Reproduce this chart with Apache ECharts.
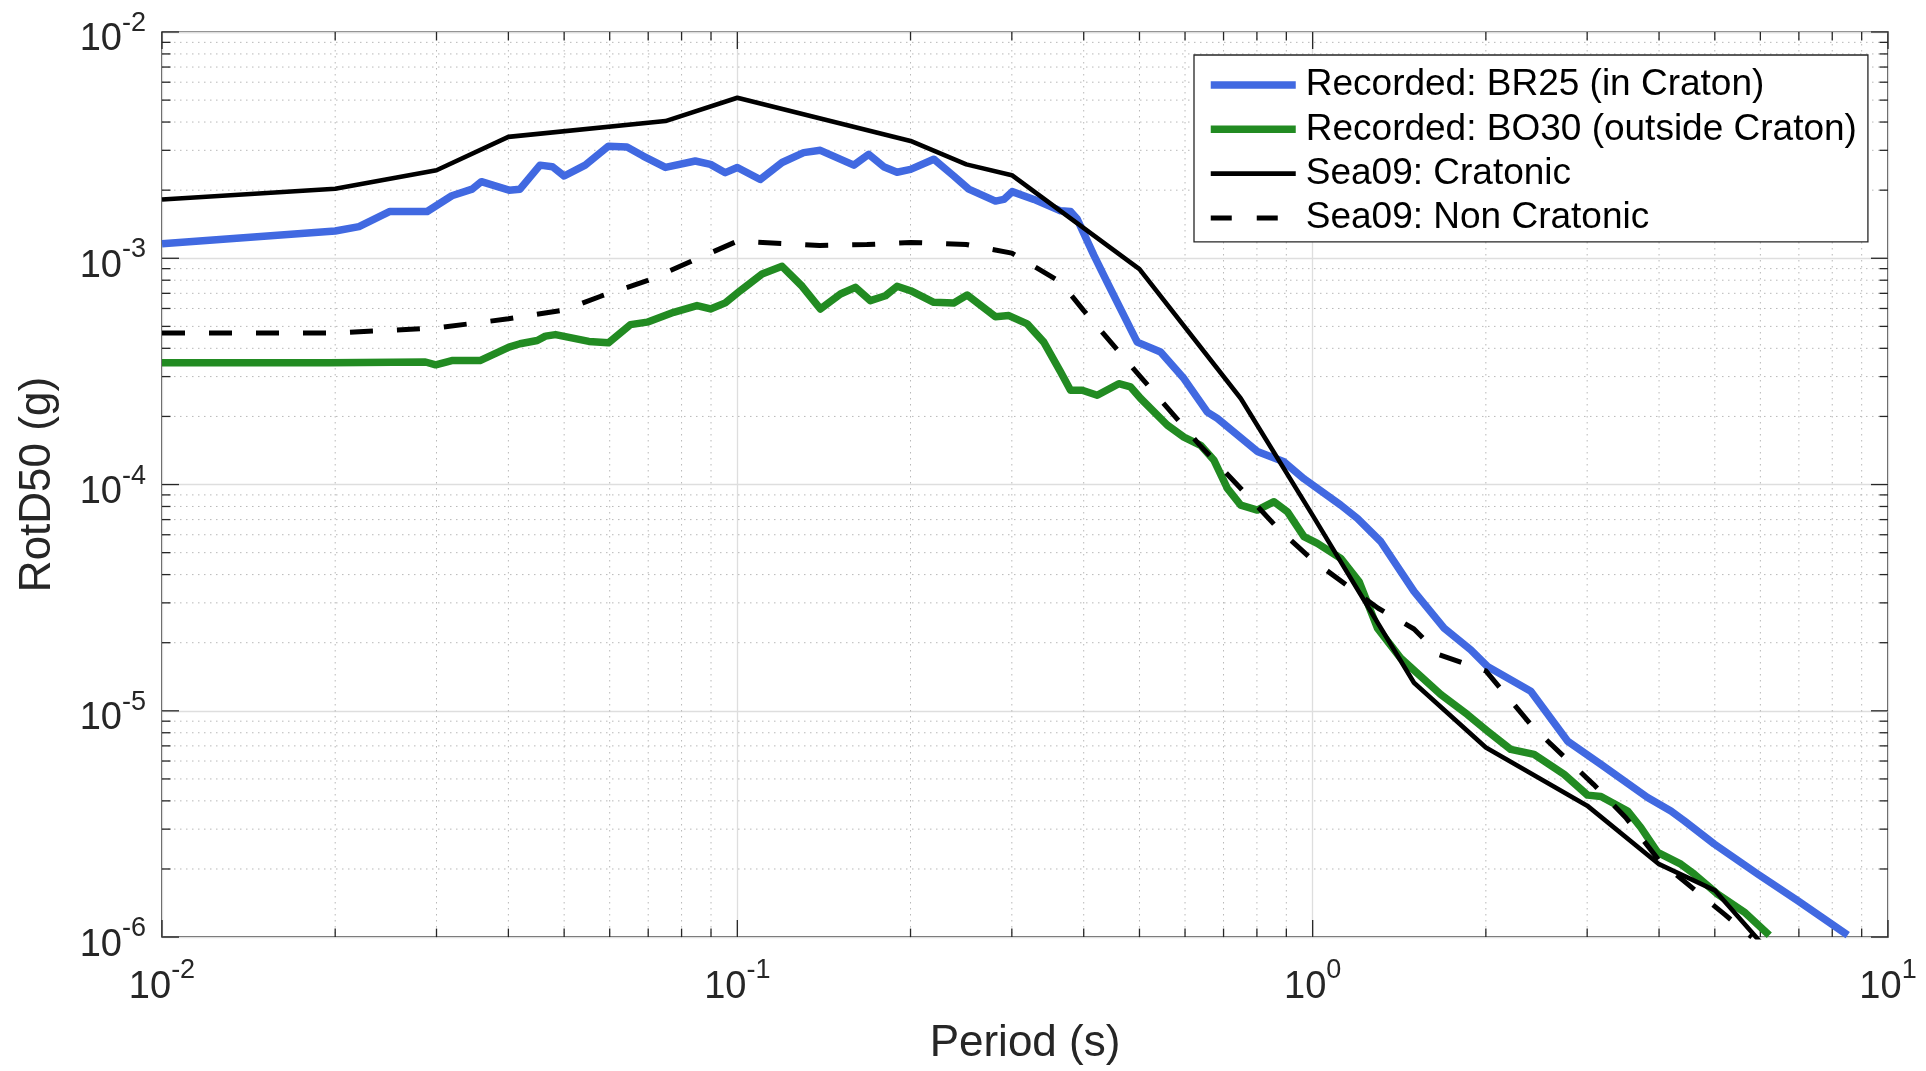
<!DOCTYPE html>
<html>
<head>
<meta charset="utf-8">
<script src="https://cdn.jsdelivr.net/npm/echarts@6/dist/echarts.min.js"></script>
<style>
html,body{margin:0;padding:0;background:#ffffff;}
#chart{width:1926px;height:1071px;}
</style>
</head>
<body>
<div id="chart"></div>
<script>
// ---------------- data ----------------
const br25Period = [0.0100,0.0200,0.0220,0.0249,0.0289,0.0319,0.0346,0.0359,0.0401,0.0419,0.0454,0.0477,0.0500,0.0544,0.0597,0.0643,0.0686,0.0750,0.0845,0.0898,0.0953,0.1000,0.1096,0.1196,0.1304,0.1394,0.1594,0.1692,0.1796,0.1895,0.2000,0.2195,0.2378,0.2525,0.2810,0.2905,0.3004,0.3277,0.3646,0.3794,0.3897,0.4167,0.4395,0.4955,0.5441,0.5973,0.6561,0.6829,0.8013,0.8916,0.9658,1.119,1.196,1.313,1.500,1.692,1.883,2.013,2.394,2.773,3.170,3.820,4.194,4.423,4.988,5.934,6.966,8.511];
const br25SA = [1.16e-3,1.32e-3,1.38e-3,1.61e-3,1.61e-3,1.89e-3,2.02e-3,2.18e-3,2.00e-3,2.02e-3,2.58e-3,2.54e-3,2.31e-3,2.58e-3,3.13e-3,3.10e-3,2.83e-3,2.52e-3,2.69e-3,2.60e-3,2.39e-3,2.52e-3,2.23e-3,2.65e-3,2.93e-3,3.00e-3,2.58e-3,2.88e-3,2.54e-3,2.40e-3,2.47e-3,2.74e-3,2.31e-3,2.02e-3,1.79e-3,1.82e-3,1.97e-3,1.82e-3,1.62e-3,1.61e-3,1.49e-3,1.03e-3,7.83e-4,4.26e-4,3.85e-4,2.94e-4,2.09e-4,1.96e-4,1.40e-4,1.26e-4,1.06e-4,8.11e-5,7.09e-5,5.60e-5,3.37e-5,2.32e-5,1.86e-5,1.57e-5,1.22e-5,7.35e-6,5.80e-6,4.14e-6,3.61e-6,3.27e-6,2.58e-6,1.90e-6,1.45e-6,1.02e-6];

const bo30Period = [0.0100,0.0195,0.0287,0.0299,0.0319,0.0357,0.0401,0.0419,0.0449,0.0464,0.0483,0.0552,0.0597,0.0652,0.0697,0.0775,0.0851,0.0898,0.0953,0.1012,0.1104,0.1196,0.1296,0.1394,0.1511,0.1604,0.1703,0.1809,0.1895,0.2000,0.2195,0.2378,0.2509,0.2810,0.2964,0.3190,0.3409,0.3646,0.3794,0.3976,0.4222,0.4603,0.4826,0.5024,0.5589,0.5973,0.6387,0.6738,0.7108,0.7497,0.8013,0.8566,0.9036,0.9658,1.019,1.119,1.204,1.296,1.422,1.670,1.858,2.013,2.210,2.426,2.736,3.004,3.170,3.526,3.719,3.977,4.365,4.603,5.056,5.626,6.219];
const bo30SA = [3.45e-4,3.45e-4,3.48e-4,3.38e-4,3.53e-4,3.53e-4,4.05e-4,4.19e-4,4.33e-4,4.53e-4,4.60e-4,4.29e-4,4.23e-4,5.09e-4,5.22e-4,5.77e-4,6.18e-4,5.97e-4,6.35e-4,7.19e-4,8.52e-4,9.21e-4,7.52e-4,5.97e-4,6.95e-4,7.44e-4,6.50e-4,6.83e-4,7.52e-4,7.19e-4,6.39e-4,6.35e-4,6.88e-4,5.52e-4,5.58e-4,5.13e-4,4.26e-4,3.15e-4,2.61e-4,2.61e-4,2.48e-4,2.79e-4,2.70e-4,2.40e-4,1.83e-4,1.62e-4,1.49e-4,1.28e-4,9.61e-5,8.11e-5,7.71e-5,8.40e-5,7.59e-5,5.89e-5,5.50e-5,4.72e-5,3.73e-5,2.32e-5,1.71e-5,1.18e-5,9.63e-6,8.14e-6,6.75e-6,6.42e-6,5.24e-6,4.24e-6,4.18e-6,3.61e-6,3.05e-6,2.37e-6,2.10e-6,1.90e-6,1.55e-6,1.29e-6,1.02e-6];

const sea09CratPeriod = [0.01,0.02,0.03,0.04,0.075,0.1,0.2,0.25,0.3,0.5,0.75,1.0,1.5,2.0,3.0,4.0,5.0,7.5];
const sea09CratSA = [1.82e-3,2.03e-3,2.45e-3,3.44e-3,4.04e-3,5.12e-3,3.30e-3,2.60e-3,2.33e-3,8.96e-4,2.40e-4,7.31e-5,1.33e-5,6.88e-6,3.81e-6,2.10e-6,1.61e-6,5.0e-7];

const sea09NonCratPeriod = [0.01,0.02,0.03,0.04,0.05,0.0582,0.0697,0.0828,0.1,0.139,0.168,0.2,0.25,0.3,0.365,0.4,0.5,0.637,0.75,0.87,1.0,1.3,1.5,1.66,2.0,2.42,3.08,3.5,4.0,5.2,5.8];
const sea09NonCratSA = [4.68e-4,4.68e-4,4.92e-4,5.40e-4,5.91e-4,6.83e-4,7.96e-4,9.65e-4,1.19e-3,1.14e-3,1.15e-3,1.175e-3,1.15e-3,1.054e-3,7.83e-4,5.87e-4,3.03e-4,1.49e-4,9.61e-5,6.40e-5,4.63e-5,2.84e-5,2.30e-5,1.77e-5,1.50e-5,8.42e-6,4.72e-6,3.38e-6,2.18e-6,1.26e-6,1.0e-6];

const seriesNames = ['Recorded: BR25 (in Craton)','Recorded: BO30 (outside Craton)','Sea09: Cratonic','Sea09: Non Cratonic'];

// axis ticks
const xMajorTicks = [0.01, 0.1, 1, 10];
const yMajorTicks = [1e-6, 1e-5, 1e-4, 1e-3, 1e-2];
const minorMultipliers = [2,3,4,5,6,7,8,9];
const X_MIN = 0.01, X_MAX = 10, Y_MIN = 1e-6, Y_MAX = 1e-2;

// ---------------- helpers ----------------
function zip(a, b){ return a.map(function(t, i){ return [t, b[i]]; }); }
function minorOf(majors){
  const out = [];
  for (let i = 0; i < majors.length - 1; i++) {
    minorMultipliers.forEach(function(m){ out.push(majors[i] * m); });
  }
  return out;
}
const xMinorTicks = minorOf(xMajorTicks);
const yMinorTicks = minorOf(yMajorTicks);

const AXIS_COLOR = '#262626';
const FONT = 'Liberation Sans, Arial, Helvetica, sans-serif';
const MAJOR_LEN = 17, MINOR_LEN = 8.5;
const BLUE = '#4169E1', GREEN = '#228B22', BLACK = '#000000';
const W_REC = 7.5, W_CRAT = 4.6, W_NONCRAT = 5;

function seg(x1, y1, x2, y2, style){
  return {type:'line', silent:true, shape:{x1:x1, y1:y1, x2:x2, y2:y2}, style:style};
}

function renderFrame(params, api){
  const bl = api.coord([X_MIN, Y_MIN]);
  const tr = api.coord([X_MAX, Y_MAX]);
  const left = bl[0], bottom = bl[1], right = tr[0], top = tr[1];
  const ch = [];
  const dotted = {stroke:'#b8b8b8', lineWidth:1, lineDash:[1.5,4.5], fill:null};
  const tick = {stroke:AXIS_COLOR, lineWidth:1.3, fill:null};
  xMinorTicks.forEach(function(v){
    const x = api.coord([v, Y_MIN])[0];
    ch.push(seg(x, top, x, bottom, dotted));
    ch.push(seg(x, bottom, x, bottom - MINOR_LEN, tick));
    ch.push(seg(x, top, x, top + MINOR_LEN, tick));
  });
  yMinorTicks.forEach(function(v){
    const y = api.coord([X_MIN, v])[1];
    ch.push(seg(left, y, right, y, dotted));
    ch.push(seg(left, y, left + MINOR_LEN, y, tick));
    ch.push(seg(right, y, right - MINOR_LEN, y, tick));
  });
  xMajorTicks.forEach(function(v){
    const x = api.coord([v, Y_MIN])[0];
    ch.push(seg(x, bottom, x, bottom - MAJOR_LEN, tick));
    ch.push(seg(x, top, x, top + MAJOR_LEN, tick));
  });
  yMajorTicks.forEach(function(v){
    const y = api.coord([X_MIN, v])[1];
    ch.push(seg(left, y, left + MAJOR_LEN, y, tick));
    ch.push(seg(right, y, right - MAJOR_LEN, y, tick));
  });
  return {type:'group', children:ch};
}

function powLabel(v){
  const e = Math.round(Math.log10(v));
  return '{b|10}{s|' + e + '}';
}
const labelRich = {
  b:{fontFamily:FONT, fontSize:38, color:AXIS_COLOR, height:60, lineHeight:60, verticalAlign:'bottom'},
  s:{fontFamily:FONT, fontSize:27, color:AXIS_COLOR, height:27, lineHeight:27, verticalAlign:'top'}
};

const chart = echarts.init(document.getElementById('chart'), null, {renderer:'canvas'});
chart.setOption({
  animation:false,
  backgroundColor:'#ffffff',
  grid:{left:162, top:32, width:1726, height:909, show:true, borderColor:AXIS_COLOR, borderWidth:1.5, backgroundColor:'rgba(0,0,0,0)', containLabel:false},
  xAxis:{
    type:'log', logBase:10, min:X_MIN, max:X_MAX,
    name:'Period (s)', nameLocation:'middle', nameGap:80,
    nameTextStyle:{fontFamily:FONT, fontSize:44, color:AXIS_COLOR},
    axisLine:{show:false}, axisTick:{show:false},
    axisLabel:{formatter:powLabel, rich:labelRich, margin:20, showMinLabel:true, showMaxLabel:true},
    splitLine:{show:true, lineStyle:{color:'#dedede', width:1.3}},
    minorTick:{show:false}, minorSplitLine:{show:false}
  },
  yAxis:{
    type:'log', logBase:10, min:Y_MIN, max:Y_MAX,
    name:'RotD50 (g)', nameLocation:'middle', nameGap:102, nameRotate:90,
    nameTextStyle:{fontFamily:FONT, fontSize:44, color:AXIS_COLOR},
    axisLine:{show:false}, axisTick:{show:false},
    axisLabel:{formatter:powLabel, rich:labelRich, margin:16, padding:[16,0,0,0], showMinLabel:true, showMaxLabel:true},
    splitLine:{show:true, lineStyle:{color:'#dedede', width:1.3}},
    minorTick:{show:false}, minorSplitLine:{show:false}
  },
  legend:{
    orient:'vertical', left:1194, top:55,
    padding:[10,11,4,13], itemGap:4.3, itemWidth:85, itemHeight:40,
    icon:'inherit',
    backgroundColor:'#ffffff', borderColor:AXIS_COLOR, borderWidth:1.3, borderRadius:0,
    selectedMode:false,
    itemStyle:{opacity:0, borderWidth:0},
    textStyle:{fontFamily:FONT, fontSize:37, color:'#000000', lineHeight:40, padding:[0,0,0,5]},
    data:[
      {name:seriesNames[0], icon:'inherit', lineStyle:{width:W_REC, color:BLUE, type:'solid'}},
      {name:seriesNames[1], icon:'inherit', lineStyle:{width:W_REC, color:GREEN, type:'solid'}},
      {name:seriesNames[2], icon:'inherit', lineStyle:{width:W_CRAT, color:BLACK, type:'solid'}},
      {name:seriesNames[3], icon:'inherit', lineStyle:{width:W_NONCRAT, color:BLACK, type:[21,25]}}
    ]
  },
  series:[
    {type:'custom', coordinateSystem:'cartesian2d', silent:true, z:1, clip:false,
     data:[[X_MIN, Y_MIN]], renderItem:renderFrame},
    {name:seriesNames[0], type:'line', data:zip(br25Period, br25SA), symbol:'none', showSymbol:false, z:2,
     color:BLUE, lineStyle:{color:BLUE, width:W_REC, join:'round', cap:'butt'}},
    {name:seriesNames[1], type:'line', data:zip(bo30Period, bo30SA), symbol:'none', showSymbol:false, z:3,
     color:GREEN, lineStyle:{color:GREEN, width:W_REC, join:'round', cap:'butt'}},
    {name:seriesNames[2], type:'line', data:zip(sea09CratPeriod, sea09CratSA), symbol:'none', showSymbol:false, z:4,
     color:BLACK, lineStyle:{color:BLACK, width:W_CRAT, join:'round', cap:'butt'}},
    {name:seriesNames[3], type:'line', data:zip(sea09NonCratPeriod, sea09NonCratSA), symbol:'none', showSymbol:false, z:5,
     color:BLACK, lineStyle:{color:BLACK, width:W_NONCRAT, type:[23,24], join:'round', cap:'butt'}}
  ]
});
</script>
</body>
</html>
